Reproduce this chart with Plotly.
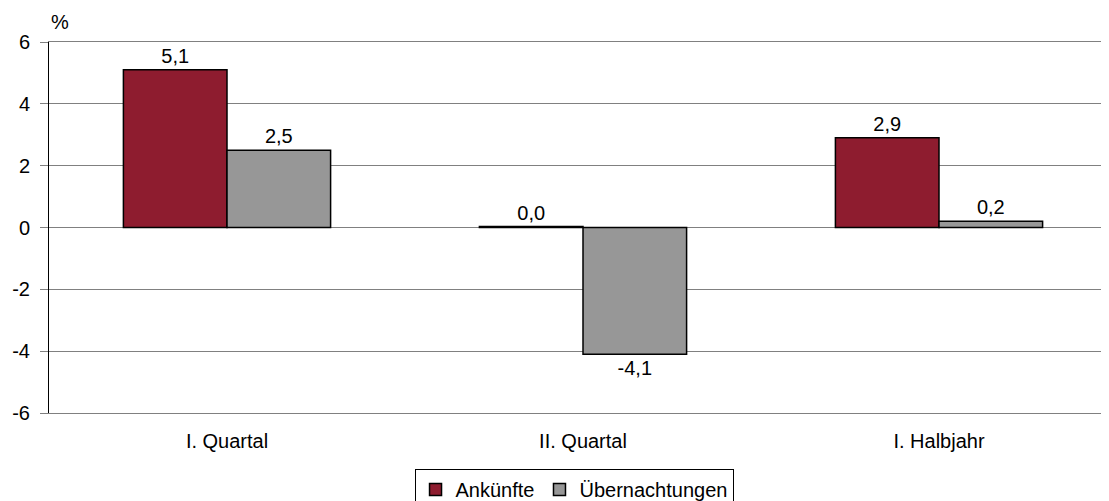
import plotly.graph_objects as go

# Veränderung gegenüber Vorjahreszeitraum in %
categories = ["I. Quartal", "II. Quartal", "I. Halbjahr"]
ankuenfte = [5.1, 0.03, 2.9]
uebernachtungen = [2.5, -4.1, 0.2]
ankuenfte_labels = ["5,1", "0,0", "2,9"]
uebernachtungen_labels = ["2,5", "-4,1", "0,2"]
y_ticks = [-6, -4, -2, 0, 2, 4, 6]
y_ticktext = ["-6", "-4", "-2", "0", "2", "4", "6"]

FONT = "Liberation Sans, Arial, sans-serif"
FS = 20
x_pos = list(range(len(categories)))

fig = go.Figure()
fig.add_trace(go.Bar(
    x=x_pos, y=ankuenfte, name="Ankünfte",
    marker=dict(color="#8E1C2F", line=dict(color="black", width=1.5)),
    text=ankuenfte_labels, textposition="outside", cliponaxis=False,
    textfont=dict(color="black", size=FS, family=FONT),
))
fig.add_trace(go.Bar(
    x=x_pos, y=uebernachtungen, name="Übernachtungen",
    marker=dict(color="#979797", line=dict(color="black", width=1.5)),
    text=uebernachtungen_labels, textposition="outside", cliponaxis=False,
    textfont=dict(color="black", size=FS, family=FONT),
))

x_range = [-0.5, 2.5]

fig.update_layout(
    width=1109, height=501,
    margin=dict(l=41, r=0, t=34, b=96, autoexpand=False),
    paper_bgcolor="white", plot_bgcolor="white",
    font=dict(family=FONT, size=FS, color="black"),
    barmode="group", bargap=0.418, bargroupgap=0,
    showlegend=True,
    legend=dict(orientation="h", xref="container", yref="container",
                x=0.5104, xanchor="center", y=0.0798, yanchor="top",
                bordercolor="black", borderwidth=1, font=dict(size=FS),
                itemwidth=30, tracegroupgap=0),
    # top/bottom lines of the plot area stand in for the gridlines at 6 and -6
    xaxis=dict(range=x_range, tickvals=x_pos, ticktext=categories,
               showgrid=False, zeroline=False, automargin=False,
               showline=True, mirror=True, linecolor="#808080", linewidth=1,
               ticks="outside", ticklen=10, tickcolor="rgba(0,0,0,0)"),
    xaxis2=dict(range=x_range, overlaying="x", anchor="free", position=0.5,
                tickvals=[0.5, 1.5], ticks="outside", ticklen=6, tickcolor="black",
                showticklabels=False, showgrid=False, zeroline=False, showline=False),
    yaxis=dict(range=[y_ticks[0], y_ticks[-1]], tickvals=y_ticks, ticktext=y_ticktext,
               showgrid=True, gridcolor="#808080", automargin=False,
               gridwidth=1, zeroline=True, zerolinecolor="#808080", zerolinewidth=1,
               showline=True, linecolor="black", linewidth=1,
               ticks="outside", ticklen=8, tickcolor="#808080", ticklabelstandoff=6),
    annotations=[dict(text="%", xref="paper", yref="paper", x=0.0103, y=1.054,
                      xanchor="center", yanchor="middle", showarrow=False,
                      font=dict(size=FS))],
)

fig.write_html("out.html")
